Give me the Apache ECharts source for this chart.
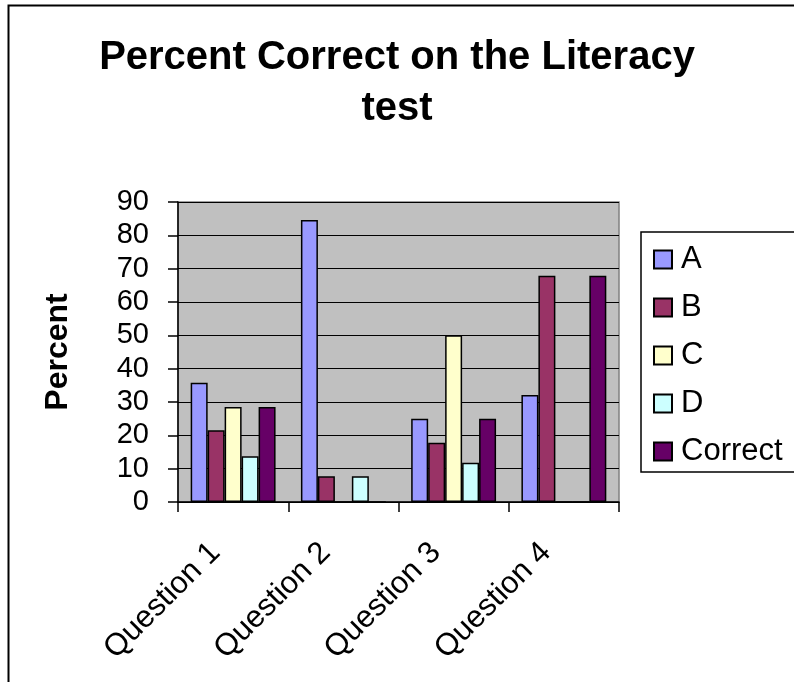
<!DOCTYPE html>
<html>
<head>
<meta charset="utf-8">
<style>
  html, body { margin: 0; padding: 0; background: #fff; }
  #main { width: 794px; height: 682px; }
</style>
<script src="https://cdn.jsdelivr.net/npm/echarts@6/dist/echarts.min.js"></script>
</head>
<body>
<div id="main"></div>
<script>
var questions = ['Question 1', 'Question 2', 'Question 3', 'Question 4'];
var seriesNames = ['A', 'B', 'C', 'D', 'Correct'];
var valuesA = [35.8, 84.6, 25.0, 32.1];
var valuesB = [21.5, 7.7, 17.8, 67.9];
var valuesC = [28.5, 0, 50.0, 0];
var valuesD = [13.7, 7.7, 11.8, 0];
var valuesCorrect = [28.5, 0, 25.0, 67.9];
var yTicks = { min: 0, max: 90, interval: 10 };
var barColors = ['#9999FF', '#993366', '#FFFFCC', '#CCFFFF', '#660066'];

var font = 'Arial, "Liberation Sans", sans-serif';
var allValues = [valuesA, valuesB, valuesC, valuesD, valuesCorrect];

var chart = echarts.init(document.getElementById('main'));

var series = seriesNames.map(function (name, i) {
  return {
    name: name,
    type: 'bar',
    data: allValues[i],
    barGap: '0%',
    barCategoryGap: '23%',
    itemStyle: { color: barColors[i], borderColor: '#000', borderWidth: 1.5 },
    emphasis: { disabled: true }
  };
});

chart.setOption({
  animation: false,
  backgroundColor: '#fff',
  graphic: [{
    type: 'rect',
    shape: { x: 8.5, y: 5.5, width: 800, height: 700 },
    style: { fill: 'none', stroke: '#000', lineWidth: 2 },
    z: 100
  }],
  title: {
    text: 'Percent Correct on the Literacy\ntest',
    left: 'center',
    top: 27,
    textStyle: {
      fontFamily: font,
      fontSize: 40,
      fontWeight: 'bold',
      color: '#000',
      lineHeight: 51
    }
  },
  legend: {
    orient: 'vertical',
    left: 641,
    top: 232,
    padding: [12, 40, 5, 12],
    borderColor: '#000',
    borderWidth: 1.5,
    itemWidth: 18,
    itemHeight: 18,
    itemGap: 17,
    icon: 'rect',
    data: seriesNames,
    textStyle: {
      fontFamily: font,
      fontSize: 31,
      color: '#000',
      padding: [0, 0, 0, 4]
    }
  },
  grid: {
    left: 178,
    top: 202,
    width: 441,
    height: 300,
    show: true,
    backgroundColor: '#C0C0C0',
    borderColor: '#808080',
    borderWidth: 1.5,
    outerBoundsMode: 'none'
  },
  xAxis: {
    type: 'category',
    data: questions,
    axisLine: { lineStyle: { color: '#000', width: 1.5 } },
    axisTick: { show: true, length: 10, interval: 0, lineStyle: { color: '#000', width: 1.5 } },
    axisLabel: {
      rotate: 45,
      interval: 0,
      margin: 28,
      padding: [0, 25, 0, 0],
      fontFamily: font,
      fontSize: 31,
      color: '#000'
    }
  },
  yAxis: {
    type: 'value',
    min: yTicks.min,
    max: yTicks.max,
    interval: yTicks.interval,
    name: 'Percent',
    nameLocation: 'middle',
    nameGap: 104,
    nameTextStyle: {
      fontFamily: font,
      fontSize: 32,
      fontWeight: 'bold',
      color: '#000'
    },
    axisLine: { show: true, lineStyle: { color: '#000', width: 1.5 } },
    axisTick: { show: true, length: 10, lineStyle: { color: '#000', width: 1.5 } },
    axisLabel: {
      margin: 29,
      fontFamily: font,
      fontSize: 29,
      color: '#000'
    },
    splitLine: { show: true, lineStyle: { color: '#000', width: 1 } }
  },
  series: series
});
</script>
</body>
</html>
